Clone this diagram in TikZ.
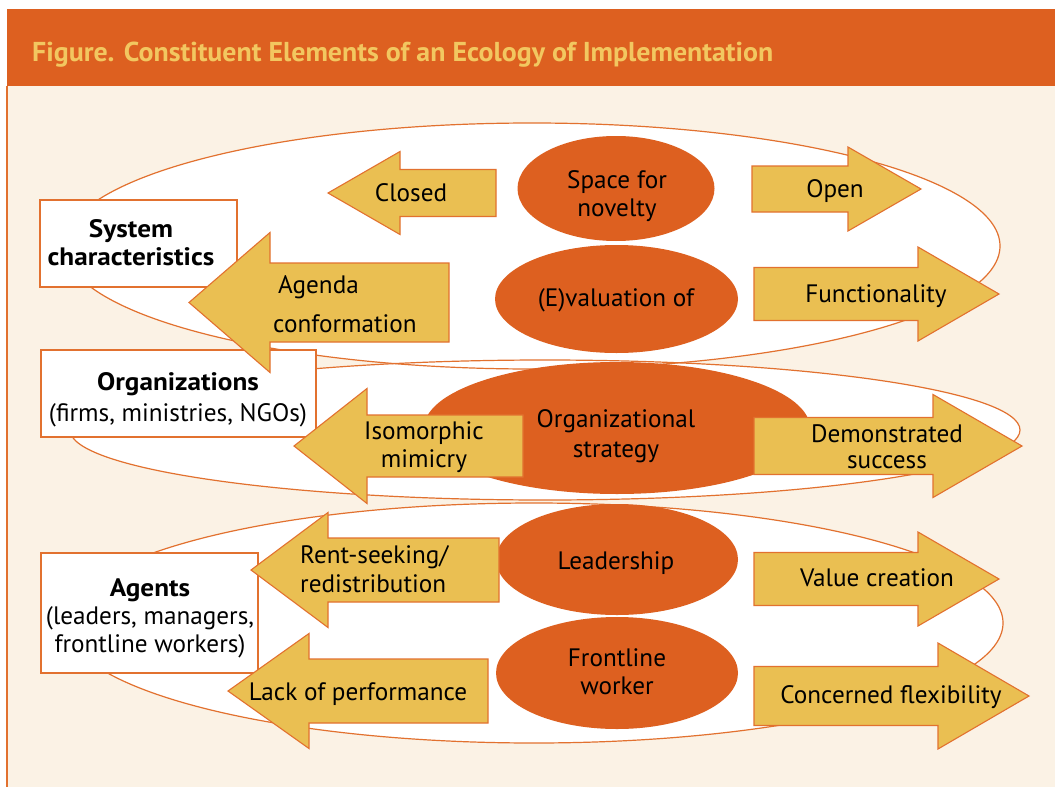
\documentclass[tikz,border=0pt]{standalone}
\usepackage{fontspec}
\setmainfont{PT Sans}
\newfontfamily\widebold[FakeStretch=1.08]{PT Sans}
\usepackage{graphicx}

\definecolor{bannerorange}{HTML}{DD6020}
\definecolor{cream}{HTML}{FBF2E5}
\definecolor{gold}{HTML}{EABF52}
\definecolor{titlegold}{HTML}{F2C760}
\definecolor{edge}{HTML}{E2712F}

% block arrow: tip x, head base x, tail x, centre y, head half-height, shaft half-height
\newcommand\arrowshape[6]{%
  \filldraw[blockarrow] (#1,#4) -- (#2,#4-#5) -- (#2,#4-#6) -- (#3,#4-#6)
    -- (#3,#4+#6) -- (#2,#4+#6) -- (#2,#4+#5) -- cycle;}

\begin{document}
\begin{tikzpicture}[x=1pt,y=-1pt,
  ring/.style={draw=edge, line width=1.2pt},
  labelbox/.style={draw=edge, fill=white, line width=1.2pt},
  blob/.style={fill=bannerorange},
  blockarrow/.style={fill=gold, draw=edge, line width=1.1pt, line join=miter},
  lbl/.style={font=\fontsize{25.2}{#1}\selectfont, anchor=base, align=center, inner sep=0pt},
  lbl/.default=28,
]
\useasboundingbox (0,0) rectangle (1055,787);
\fill[white] (0,0) rectangle (1055,787);

% panel and banner
\fill[cream] (7,86) rectangle (1055,787);
\draw[edge, line width=1.4pt] (7,86) -- (7,787);
\fill[bannerorange] (7,9) rectangle (1055,86);
\node[anchor=base west, inner sep=0pt, text=titlegold] (title) at (32,61)
  {\resizebox{741pt}{19.5pt}{\bfseries Figure. Constituent Elements of an Ecology of Implementation}};

% the three level rings
\fill[white] (532,246) ellipse [x radius=468pt, y radius=123pt];
\fill[white] (545,430) ellipse [x radius=475pt, y radius=70pt];
\fill[white] (534,623) ellipse [x radius=469pt, y radius=120pt];
\draw[ring] (532,246) ellipse [x radius=468pt, y radius=123pt];
\draw[ring] (545,430) ellipse [x radius=475pt, y radius=70pt];
\draw[ring] (534,623) ellipse [x radius=469pt, y radius=120pt];

% level boxes
\filldraw[labelbox] (40,200) rectangle (237,287);
\filldraw[labelbox] (41,350) rectangle (316,437);
\filldraw[labelbox] (41,553) rectangle (258,673);

% central elements
\fill[blob] (616,188.5) ellipse [x radius=98.5pt, y radius=52.5pt];
\fill[blob] (616.5,299) ellipse [x radius=121.5pt, y radius=54pt];
\fill[blob] (617,428) ellipse [x radius=193pt, y radius=66pt];
\fill[blob] (617,559.5) ellipse [x radius=121pt, y radius=55.5pt];
\fill[blob] (617,673) ellipse [x radius=121pt, y radius=56pt];

% arrows pointing left
\arrowshape{328}{400}{496}{193}{41.5}{23.5}
\arrowshape{189}{270}{449}{302.5}{70}{39.5}
\arrowshape{294}{367}{523}{446}{57.5}{31}
\arrowshape{251}{328}{499}{570}{57.5}{32}
\arrowshape{228}{309}{488}{691}{57.5}{32}
% arrows pointing right
\arrowshape{921}{848}{752}{189}{42}{23}
\arrowshape{999}{918}{754}{294}{47}{26.5}
\arrowshape{1022}{933}{754}{446}{51.5}{28.5}
\arrowshape{999}{918}{754}{579}{47}{26.5}
\arrowshape{1029}{938}{754}{696}{53}{29.5}

% texts (multi-line nodes sit on the baseline of their last line)
\node[lbl] (system) at (131,265) {\widebold\bfseries System\\\widebold\bfseries characteristics};
\node[lbl=31] (orgs) at (178,421) {\widebold\bfseries Organizations\\(firms, ministries, NGOs)};
\node[lbl] (agents) at (150,652) {\widebold\bfseries Agents\\(leaders, managers,\\frontline workers)};

\node[lbl] (closed) at (411,201) {Closed};
\node[lbl=39, anchor=base west, align=left] (agenda) at (273,332) {\hspace{5pt}Agenda\\conformation};
\node[lbl] (mimicry) at (424,467) {Isomorphic\\mimicry};
\node[lbl=29, anchor=base west, align=left] (rent) at (300,592) {Rent-seeking/\\redistribution};
\node[lbl] (lack) at (358,700) {Lack of performance};

\node[lbl] (novelty) at (617,216) {Space for\\novelty};
\node[lbl] (evaluation) at (616,306) {(E)valuation of};
\node[lbl=30] (strategy) at (616,457) {Organizational\\strategy};
\node[lbl] (leadership) at (616,569) {Leadership};
\node[lbl] (frontline) at (617,694) {Frontline\\worker};

\node[lbl] (open) at (835,197) {Open};
\node[lbl] (functionality) at (876,302) {Functionality};
\node[lbl=26] (success) at (887,468) {Demonstrated\\success};
\node[lbl] (value) at (877,586) {Value creation};
\node[lbl] (flexibility) at (891,703) {Concerned flexibility};
\end{tikzpicture}
\end{document}
